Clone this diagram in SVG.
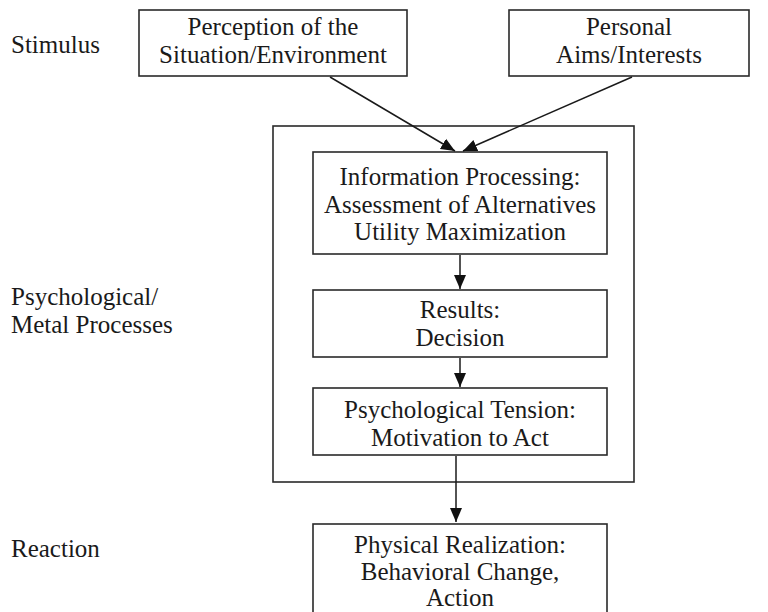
<svg xmlns="http://www.w3.org/2000/svg" width="768" height="612" viewBox="0 0 768 612">
<style>
.box{fill:#fff;stroke:#2a2a2a;stroke-width:1.6}
.t{font-family:"Liberation Serif","Times New Roman",serif;font-size:25px;fill:#1a1a1a}
.c{text-anchor:middle}
.conn{stroke:#1a1a1a;stroke-width:1.5;fill:none}
</style>
<defs>
<marker id="ah" markerUnits="userSpaceOnUse" markerWidth="16" markerHeight="16" viewBox="0 0 16 16" refX="14" refY="8" orient="auto">
<path d="M0,2 L14,8 L0,14 Z" fill="#111"/>
</marker>
</defs>
<rect width="768" height="612" fill="#fff"/>
<g id="labels">
<text class="t" x="11" y="53">Stimulus</text>
<text class="t" x="11" y="305">Psychological/</text>
<text class="t" x="11" y="333">Metal Processes</text>
<text class="t" x="11" y="557">Reaction</text>
</g>
<g id="outer"><rect class="box" x="273" y="126" width="361" height="356"/></g>
<g id="perception">
<rect class="box" x="139" y="10" width="268" height="66"/>
<text class="t c" x="273" y="35">Perception of the</text>
<text class="t c" x="273" y="63">Situation/Environment</text>
</g>
<g id="aims">
<rect class="box" x="509" y="10" width="240" height="66"/>
<text class="t c" x="629" y="35">Personal</text>
<text class="t c" x="629" y="63">Aims/Interests</text>
</g>
<g id="info">
<rect class="box" x="313" y="152" width="294" height="102"/>
<text class="t c" x="460" y="185">Information Processing:</text>
<text class="t c" x="460" y="213">Assessment of Alternatives</text>
<text class="t c" x="460" y="240">Utility Maximization</text>
</g>
<g id="results">
<rect class="box" x="313" y="290" width="294" height="67"/>
<text class="t c" x="460" y="318">Results:</text>
<text class="t c" x="460" y="346">Decision</text>
</g>
<g id="tension">
<rect class="box" x="313" y="388" width="294" height="67"/>
<text class="t c" x="460" y="418">Psychological Tension:</text>
<text class="t c" x="460" y="446">Motivation to Act</text>
</g>
<g id="reaction">
<rect class="box" x="313" y="524" width="294" height="100"/>
<text class="t c" x="460" y="553">Physical Realization:</text>
<text class="t c" x="460" y="580">Behavioral Change,</text>
<text class="t c" x="460" y="606">Action</text>
</g>
<g id="connectors" class="conn">
<line x1="330" y1="77" x2="455" y2="151" marker-end="url(#ah)"/>
<line x1="632" y1="77" x2="463" y2="151" marker-end="url(#ah)"/>
<line x1="460" y1="255" x2="460" y2="289" marker-end="url(#ah)"/>
<line x1="460" y1="358" x2="460" y2="387" marker-end="url(#ah)"/>
<line x1="456" y1="456" x2="456" y2="522" marker-end="url(#ah)"/>
</g>
</svg>
